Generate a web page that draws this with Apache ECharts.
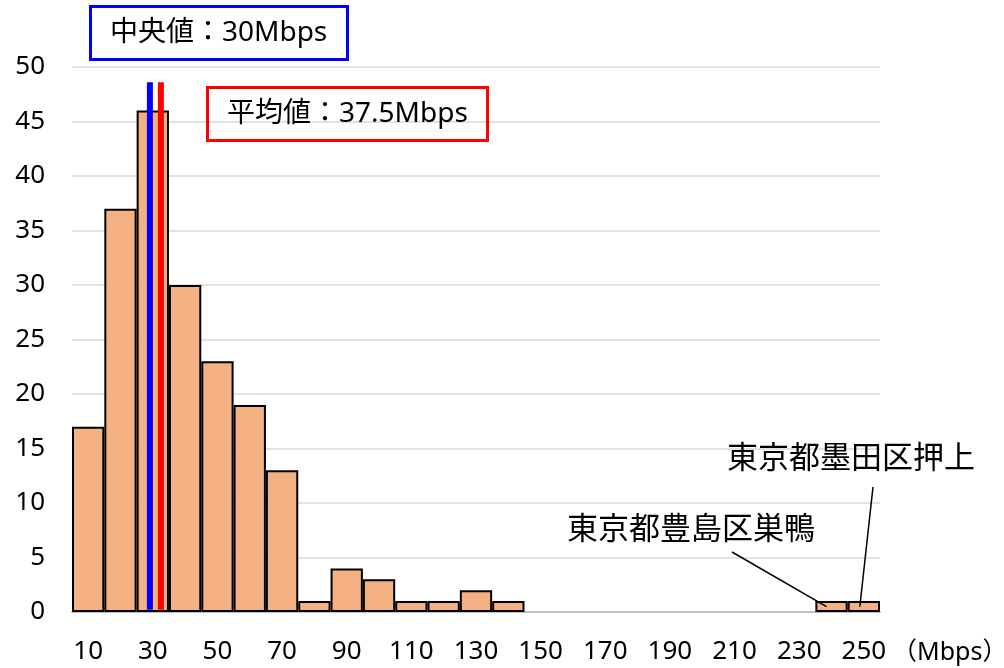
<!DOCTYPE html>
<html>
<head>
<meta charset="utf-8">
<script src="https://cdn.jsdelivr.net/npm/echarts@6/dist/echarts.min.js"></script>
<style>
  html, body { margin: 0; padding: 0; background: #fff; }
  #chart { width: 1004px; height: 668px; }
</style>
</head>
<body>
<div id="chart"></div>
<script>
// histogram bins (Mbps) and counts
const categories = ['10','20','30','40','50','60','70','80','90','100','110','120','130','140','150','160','170','180','190','200','210','220','230','240','250'];
const counts = [17,37,46,30,23,19,13,1,4,3,1,1,2,1,0,0,0,0,0,0,0,0,0,1,1];

// median / mean marker positions on the bin scale, and their height
const medianX = 29.1;
const meanX = 32.5;
const markerTop = 48.6;

const medianText = '中央値：30Mbps';
const meanText = '平均値：37.5Mbps';

// annotated bins
const notes = [
  { cat: '240', text: '東京都豊島区巣鴨' },
  { cat: '250', text: '東京都墨田区押上' }
];

const FONT = '"Noto Sans", "Noto Sans CJK JP", sans-serif';

const chart = echarts.init(document.getElementById('chart'));

chart.setOption({
  animation: false,
  title: [
    {
      text: medianText,
      left: 90, top: 6,
      padding: [12, 20, 12, 20],
      borderColor: '#0000ff', borderWidth: 3,
      textStyle: { fontFamily: FONT, fontSize: 28, fontWeight: 'normal', color: '#000', lineHeight: 30 }
    },
    {
      text: meanText,
      left: 207, top: 87,
      padding: [12, 20, 12, 20],
      borderColor: '#ff0000', borderWidth: 3,
      textStyle: { fontFamily: FONT, fontSize: 28, fontWeight: 'normal', color: '#000', lineHeight: 30 }
    }
  ],
  grid: { left: 72, right: 124, top: 67, bottom: 56, containLabel: false, outerBoundsMode: 'none' },
  xAxis: [
    {
      type: 'category',
      data: categories,
      axisTick: { show: false },
      axisLine: { lineStyle: { color: '#bfbfbf', width: 2 } },
      axisLabel: { interval: 1, margin: 27, fontFamily: FONT, fontSize: 26, color: '#000' },
      name: '（Mbps）',
      nameLocation: 'end',
      nameGap: 2,
      nameTextStyle: { fontFamily: FONT, fontSize: 25, color: '#000', verticalAlign: 'top', padding: [28, 0, 0, 0] }
    },
    {
      type: 'value',
      min: 5, max: 255,
      show: false
    }
  ],
  yAxis: {
    type: 'value',
    min: 0, max: 50, interval: 5,
    axisLine: { show: false },
    axisTick: { show: false },
    axisLabel: { margin: 27, fontFamily: FONT, fontSize: 26, color: '#000' },
    splitLine: { lineStyle: { color: '#d9d9d9', width: 1.5 } }
  },
  series: [
    {
      type: 'bar',
      data: counts.map(v => v === 0 ? '-' : v),
      barCategoryGap: 0,
      itemStyle: { color: '#f4b183', borderColor: '#000', borderWidth: 2 }
    },
    {
      type: 'line',
      xAxisIndex: 1,
      data: [[medianX, 0.2], [medianX, markerTop]],
      symbol: 'none',
      lineStyle: { color: '#0000ff', width: 6, cap: 'butt' },
      z: 5
    },
    {
      type: 'line',
      xAxisIndex: 1,
      data: [[meanX, 0.2], [meanX, markerTop]],
      symbol: 'none',
      lineStyle: { color: '#ff0000', width: 6, cap: 'butt' },
      z: 5
    }
  ]
});

// callouts: text placed above the chart area, line down into the bar
const labelPos = [
  { text: [691, 530], from: [732, 552] },
  { text: [851, 459], from: [873, 487] }
];
const graphics = [];
notes.forEach((n, i) => {
  const idx = categories.indexOf(n.cat);
  const p = chart.convertToPixel({ xAxisIndex: 0, yAxisIndex: 0 }, [idx, counts[idx] / 2]);
  const lp = labelPos[i];
  graphics.push({
    type: 'text',
    x: lp.text[0], y: lp.text[1],
    style: { text: n.text, font: '31px ' + FONT, fill: '#000', align: 'center', verticalAlign: 'middle' },
    z: 10
  });
  graphics.push({
    type: 'line',
    shape: { x1: lp.from[0], y1: lp.from[1], x2: p[0] - (i === 0 ? 5 : 4), y2: p[1] },
    style: { stroke: '#000', lineWidth: 1.5 },
    z: 10
  });
});
chart.setOption({ graphic: graphics });
</script>
</body>
</html>
